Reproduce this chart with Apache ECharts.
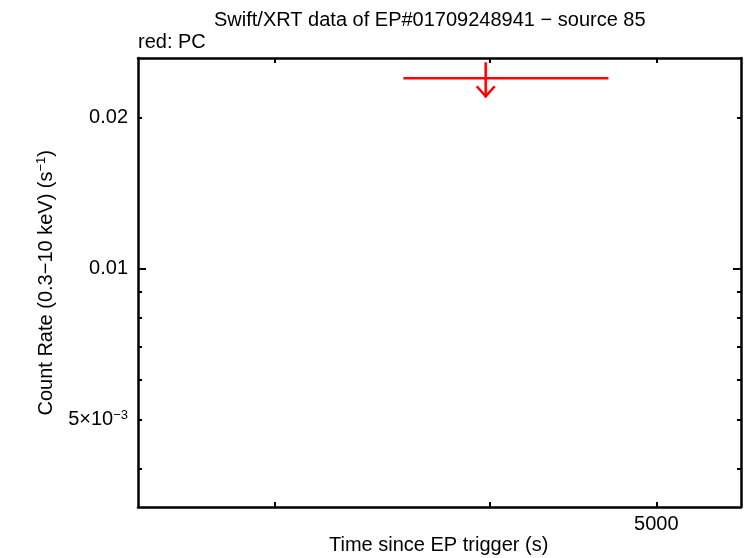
<!DOCTYPE html>
<html>
<head>
<meta charset="utf-8">
<script src="https://cdn.jsdelivr.net/npm/echarts@6/dist/echarts.min.js"></script>
<style>html,body{margin:0;padding:0;background:#fff}#c{width:746px;height:558px}</style>
</head>
<body>
<div id="c"></div>
<script>
// ---- data ----
var titleText = 'Swift/XRT data of EP#01709248941 \u2212 source 85';
var subtitleText = 'red: PC';
var xName = 'Time since EP trigger (s)';
// upper limits: [time, timeLow, timeHigh, rateUpperLimit]
var pcUpperLimits = [[3980, 3565, 4690, 0.0240]];
var xRange = [2500, 5600];
var yRange = [0.003353, 0.02634];
var xMinorTicks = [3000, 4000, 5000];
var xTickLabels = [5000];
var yMinorTicks = [0.004, 0.005, 0.006, 0.007, 0.008, 0.009, 0.02];
var yMajorTicks = [0.01];
var yTickLabels = [0.005, 0.01, 0.02];

var FONT = 'Liberation Sans, Arial, Helvetica, sans-serif';
var FS = 20;
var chart = echarts.init(document.getElementById('c'));

function yFmt(v) {
  if (Math.abs(v - 0.005) < 1e-6) return '5\u00d710{sup|\u22123}';
  if (Math.abs(v - 0.01) < 1e-6) return '0.01';
  if (Math.abs(v - 0.02) < 1e-6) return '0.02';
  return '';
}

function xAxisDef(pos, ticks, labels, showLine) {
  return {
    type: 'log', logBase: 10, position: pos, min: xRange[0], max: xRange[1],
    gridIndex: 0,
    axisLine: {show: showLine, onZero: false, lineStyle: {color: '#000', width: 2.5}},
    axisTick: {show: true, inside: true, length: 5, customValues: ticks, lineStyle: {color: '#000', width: 2}},
    axisLabel: labels ? {show: true, customValues: labels, color: '#000', fontSize: FS, fontFamily: FONT, margin: 7,
      formatter: function (v) { return String(Math.round(v)); }} : {show: false},
    splitLine: {show: false}, minorTick: {show: false}
  };
}
function yAxisDef(pos, ticks, len, labels, showLine) {
  return {
    type: 'log', logBase: 10, position: pos, min: yRange[0], max: yRange[1],
    gridIndex: 0,
    axisLine: {show: showLine, onZero: false, lineStyle: {color: '#000', width: 2.5}},
    axisTick: {show: true, inside: true, length: len, customValues: ticks, lineStyle: {color: '#000', width: 2}},
    axisLabel: labels ? {show: true, customValues: labels, color: '#000', fontSize: FS, fontFamily: FONT, margin: 10,
      formatter: yFmt,
      rich: {sup: {fontSize: 13, verticalAlign: 'top', padding: [0, 0, 9, 0], color: '#000', fontFamily: FONT}}} : {show: false},
    splitLine: {show: false}, minorTick: {show: false}
  };
}

var option = {
  animation: false,
  backgroundColor: '#fff',
  grid: {left: 138, right: 5, top: 58, bottom: 51, containLabel: false},
  xAxis: [
    xAxisDef('bottom', xMinorTicks, xTickLabels, true),
    xAxisDef('top', xMinorTicks, null, true)
  ],
  yAxis: [
    yAxisDef('left', yMinorTicks, 4, yTickLabels, true),
    yAxisDef('left', yMajorTicks, 8, null, false),
    yAxisDef('right', yMinorTicks, 4, null, true),
    yAxisDef('right', yMajorTicks, 8, null, false)
  ],
  graphic: [
    {type: 'text', left: 214, top: 10, style: {text: titleText, fill: '#000', font: FS + 'px ' + FONT}},
    {type: 'text', left: 138, top: 32, style: {text: subtitleText, fill: '#000', font: FS + 'px ' + FONT}},
    {type: 'text', left: 329, top: 535, style: {text: xName, fill: '#000', font: FS + 'px ' + FONT}},
    {type: 'text', rotation: Math.PI / 2, left: 35, top: 150,
      style: {text: 'Count Rate (0.3\u221210 keV) (s{sup|\u22121})', fill: '#000', font: FS + 'px ' + FONT,
        rich: {sup: {fontSize: 13, verticalAlign: 'top', padding: [0, 0, 9, 0], fill: '#000', fontFamily: FONT}}}}
  ],
  series: [{
    type: 'custom',
    xAxisIndex: 0, yAxisIndex: 0,
    clip: false,
    data: pcUpperLimits,
    encode: {x: 0, y: 3},
    renderItem: function (params, api) {
      var c = api.coord([api.value(0), api.value(3)]);
      var lo = api.coord([api.value(1), api.value(3)]);
      var hi = api.coord([api.value(2), api.value(3)]);
      var st = {stroke: '#ff0000', lineWidth: 2.5, fill: 'none'};
      return {type: 'group', children: [
        {type: 'line', shape: {x1: lo[0], y1: c[1], x2: hi[0], y2: c[1]}, style: st},
        {type: 'line', shape: {x1: c[0], y1: c[1] - 16, x2: c[0], y2: c[1] + 19}, style: st},
        {type: 'polyline', shape: {points: [[c[0] - 9, c[1] + 8], [c[0], c[1] + 18], [c[0] + 9, c[1] + 8]]}, style: st}
      ]};
    }
  }]
};
chart.setOption(option);
</script>
</body>
</html>
